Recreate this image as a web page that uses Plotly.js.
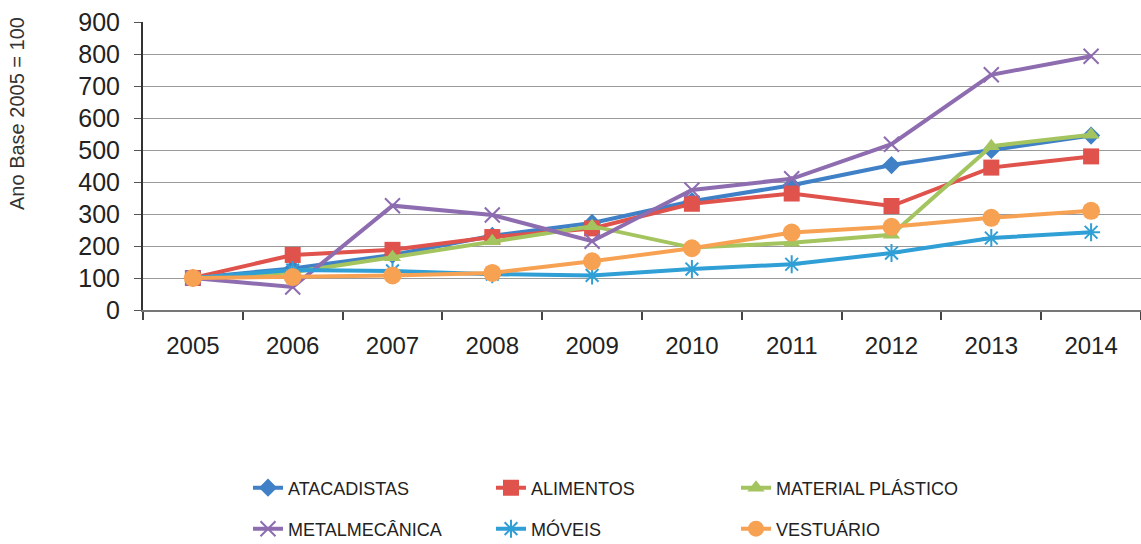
<!DOCTYPE html>
<html>
<head>
<meta charset="utf-8">
<script src="https://cdn.plot.ly/plotly-3.0.1.min.js"></script>
<style>html,body{margin:0;padding:0;background:#fff;}#chart{width:1141px;height:544px;}</style>
</head>
<body>
<div id="chart"></div>
<script>
const years = ['2005','2006','2007','2008','2009','2010','2011','2012','2013','2014'];
const seriesNames = ['ATACADISTAS','ALIMENTOS','MATERIAL PLÁSTICO','METALMECÂNICA','MÓVEIS','VESTUÁRIO'];
const atacadistas = [100, 130, 172, 232, 272, 340, 390, 453, 500, 545];
const alimentos = [100, 172, 188, 228, 255, 332, 364, 325, 445, 480];
const materialPlastico = [100, 118, 165, 215, 262, 195, 210, 235, 512, 548];
const metalmecanica = [100, 72, 326, 297, 215, 375, 410, 518, 735, 793];
const moveis = [100, 125, 122, 112, 108, 128, 143, 178, 225, 243];
const vestuario = [100, 103, 108, 116, 152, 193, 242, 260, 288, 310];
const yTicks = [0,100,200,300,400,500,600,700,800,900];

const colors = ['#3f80c6','#e0524c','#a3c45e','#8e6cb0','#2f9fd6','#f7a152'];
const symbols = ['diamond','square','triangle-up','x-thin-open','asterisk-open','circle'];
const sizes = [14, 16, 15, 15, 15, 18];
const values = [atacadistas, alimentos, materialPlastico, metalmecanica, moveis, vestuario];
const legendIds = ['legend','legend2','legend3','legend4','legend5','legend6'];

const traces = values.map((v, i) => ({
  type: 'scatter', mode: 'lines+markers', x: years, y: v, name: seriesNames[i],
  line: {color: colors[i], width: 4},
  marker: {symbol: symbols[i], size: sizes[i], color: colors[i],
           line: {color: colors[i], width: (symbols[i].indexOf('open') >= 0) ? 2 : 0}},
  legend: legendIds[i], cliponaxis: false
}));

const pw = 1141 - 143;
function px2x(p){ return (p - 143) / pw; }
function py2y(p){ return (310 - p) / 288; }
const colX = [248, 491, 736];
const rowY = [488, 529];
const legFont = {family: 'Liberation Sans, Arial, sans-serif', size: 18, color: '#222'};
const layout = {
  width: 1141, height: 544,
  margin: {l: 143, r: 0, t: 22, b: 234, autoexpand: false},
  paper_bgcolor: '#fff', plot_bgcolor: '#fff',
  showlegend: true,
  xaxis: {
    type: 'category', range: [-0.5, 9.5], tickson: 'boundaries',
    showgrid: false, showline: true, linecolor: '#777', linewidth: 1.5,
    ticks: 'outside', ticklen: 8, tickwidth: 2, tickcolor: '#444',
    ticklabelstandoff: 14, automargin: false,
    tickfont: {family: 'Liberation Sans, Arial, sans-serif', size: 24, color: '#222'},
    fixedrange: true
  },
  yaxis: {
    range: [0, 900], tickvals: yTicks, ticktext: yTicks.map(String),
    showgrid: true, gridcolor: '#9a9a9a', gridwidth: 1,
    showline: true, linecolor: '#333', linewidth: 2,
    ticks: 'outside', ticklen: 7, tickwidth: 1, tickcolor: '#555',
    ticklabelstandoff: 9, zeroline: false, automargin: false,
    tickfont: {family: 'Liberation Sans, Arial, sans-serif', size: 25, color: '#222'},
    fixedrange: true
  },
  annotations: [{
    text: 'Ano Base 2005 = 100', textangle: -90, showarrow: false,
    xref: 'paper', yref: 'paper', x: px2x(17), y: py2y(114),
    xanchor: 'center', yanchor: 'middle',
    font: {family: 'Liberation Sans, Arial, sans-serif', size: 20, color: '#333'}
  }]
};
legendIds.forEach((id, i) => {
  const col = i % 3, row = Math.floor(i / 3);
  layout[id] = {
    x: px2x(colX[col]), y: py2y(rowY[row]), xanchor: 'left', yanchor: 'middle',
    orientation: 'v', bgcolor: 'rgba(0,0,0,0)', borderwidth: 0, font: legFont
  };
});
Plotly.newPlot('chart', traces, layout, {displayModeBar: false, staticPlot: true});
</script>
</body>
</html>
